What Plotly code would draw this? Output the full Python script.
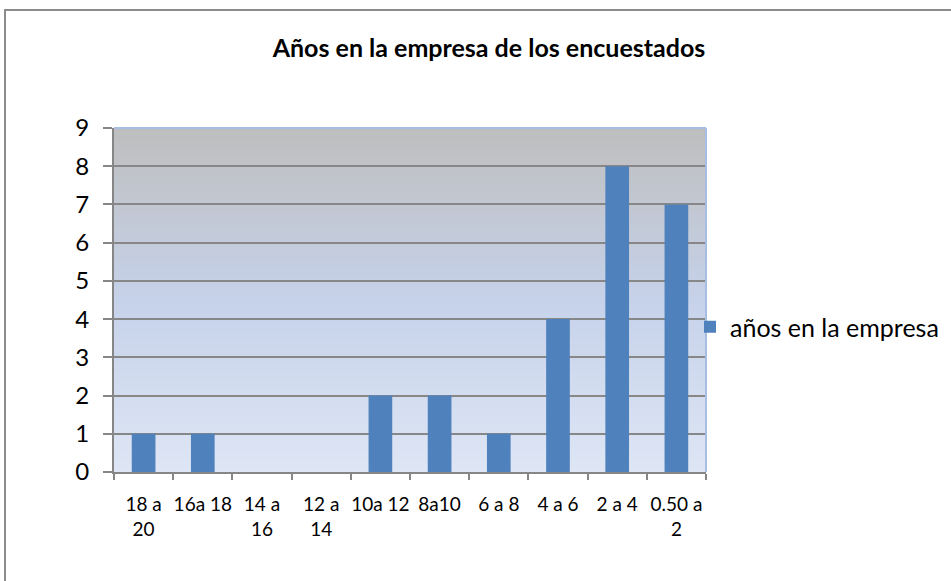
import plotly.graph_objects as go

# Survey data: years at the company
categorias = ["18 a<br>20", "16a 18", "14 a<br>16", "12 a<br>14", "10a 12",
              "8a10", "6 a 8", "4 a 6", "2 a 4", "0.50 a<br>2"]
valores = [1, 1, 0, 0, 2, 2, 1, 4, 8, 7]
serie = "años en la empresa"
titulo = "Años en la empresa de los encuestados"
y_ticks = list(range(0, 10))

W, H = 951, 581
L, R, T, B = 114, 245, 128, 109
PW, PH = W - L - R, H - T - B

FONT = "Lato"

fig = go.Figure()
fig.add_trace(go.Bar(
    x=categorias, y=valores, name=serie,
    marker=dict(color="#4F81BD", line=dict(width=0)),
    showlegend=True,
))

# vertical gradient for the plot area: grey at the top, pale blue at the bottom
def lerp(c0, c1, t):
    return tuple(round(a + (b - a) * t) for a, b in zip(c0, c1))

stops = [(0.0, (222, 230, 245)), (0.5, (198, 210, 234)), (1.0, (190, 190, 190))]
shapes = []
N = 80
for i in range(N):
    t = (i + 0.5) / N
    for (p0, c0), (p1, c1) in zip(stops[:-1], stops[1:]):
        if p0 <= t <= p1:
            c = lerp(c0, c1, (t - p0) / (p1 - p0))
            break
    shapes.append(dict(type="rect", xref="x domain", yref="y domain",
                       x0=0, x1=1, y0=i / N, y1=(i + 1) / N + 0.002,
                       fillcolor="rgb(%d,%d,%d)" % c, line=dict(width=0),
                       layer="below"))

# light blue border on top and right of the plot area
border = "#A7BDE3"
shapes.append(dict(type="line", xref="x domain", yref="y domain",
                   x0=0, x1=1, y0=1, y1=1, line=dict(color=border, width=2),
                   layer="above"))
shapes.append(dict(type="line", xref="x domain", yref="y domain",
                   x0=1, x1=1, y0=0, y1=1, line=dict(color=border, width=2),
                   layer="above"))

# outer chart frame (top and left edges)
def px_x(x):
    return (x - L) / PW

def px_y(y):
    return (H - B - y) / PH

frame = "#8C8C8C"
shapes.append(dict(type="line", xref="paper", yref="paper",
                   x0=px_x(4), x1=px_x(951), y0=px_y(10), y1=px_y(10),
                   line=dict(color=frame, width=2), layer="above"))
shapes.append(dict(type="line", xref="paper", yref="paper",
                   x0=px_x(5), x1=px_x(5), y0=px_y(10), y1=px_y(581),
                   line=dict(color=frame, width=2), layer="above"))

fig.update_layout(
    width=W, height=H,
    margin=dict(l=L, r=R, t=T, b=B, pad=0, autoexpand=False),
    paper_bgcolor="white",
    plot_bgcolor="rgba(0,0,0,0)",
    bargap=0.6,
    shapes=shapes,
    font=dict(family=FONT, color="black"),
    title=dict(text="<b>" + titulo + "</b>", x=(489 - L) / PW, xref="paper",
               xanchor="center", y=1 - 48 / H, yanchor="middle",
               font=dict(size=25, family=FONT, color="black")),
    legend=dict(x=px_x(690), xanchor="left", y=px_y(327), yanchor="middle",
                font=dict(size=25, family=FONT, color="black"),
                bgcolor="rgba(0,0,0,0)", itemwidth=30),
    xaxis=dict(
        type="category", tickson="boundaries", ticks="outside", ticklen=6,
        tickcolor="#868686", tickwidth=1.5, showline=True, linecolor="#868686",
        linewidth=2, showgrid=False, tickangle=0, ticklabelstandoff=14,
        tickfont=dict(size=19, family=FONT, color="black"),
    ),
    yaxis=dict(
        range=[0, 9], tickvals=y_ticks, ticks="outside", ticklen=9,
        tickcolor="#868686", tickwidth=1.5, showline=True, linecolor="#868686",
        linewidth=2, showgrid=True, gridcolor="#878787", gridwidth=1.5,
        zeroline=False, ticklabelstandoff=9,
        tickfont=dict(size=24, family=FONT, color="black"),
    ),
)

fig.write_html("out.html")
